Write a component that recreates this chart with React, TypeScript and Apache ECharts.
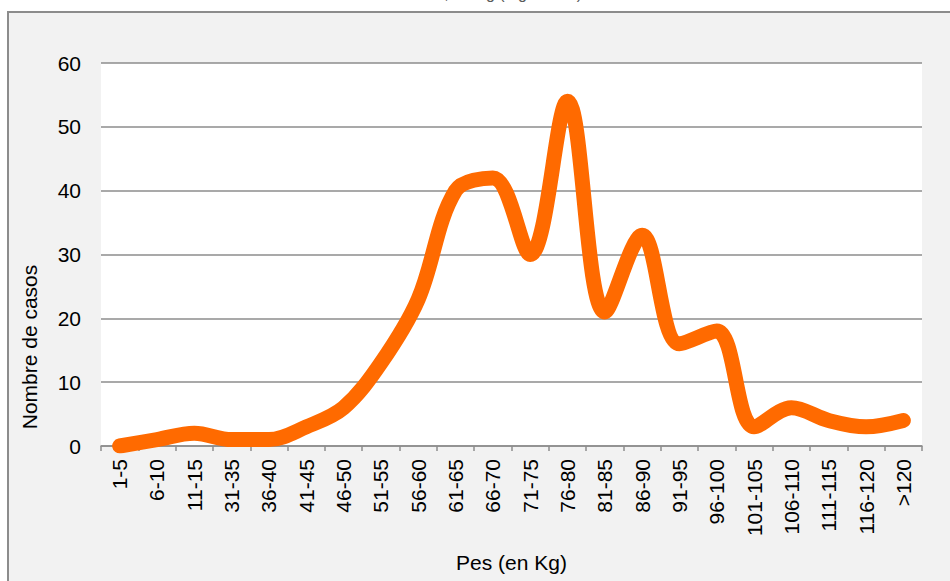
import React, { useEffect, useRef } from "react";
import * as echarts from "echarts";

const categories = [
  "1-5", "6-10", "11-15", "31-35", "36-40", "41-45", "46-50", "51-55", "56-60", "61-65", "66-70",
  "71-75", "76-80", "81-85", "86-90", "91-95", "96-100", "101-105", "106-110", "111-115", "116-120", ">120",
];
const casos = [0, 1, 2, 1, 1, 3, 6, 13, 23, 40, 42, 30, 54, 21, 33, 16, 18, 3, 6, 4, 3, 4];
const yTicks = { min: 0, max: 60, interval: 10 };
const titleText = "Distribució del Pes, en Kg (Figura 3.1)";
const xName = "Pes (en Kg)";
const yName = "Nombre de casos";

const FONT = "'Liberation Sans', Arial, sans-serif";
const FS = 21;

export default function App() {
  const ref = useRef<HTMLDivElement>(null);
  useEffect(() => {
    if (!ref.current) return;
    const chart = echarts.init(ref.current, undefined, { renderer: "svg" });
    chart.setOption({
      animation: false,
      backgroundColor: "#ffffff",
      textStyle: { fontFamily: FONT },
      graphic: [
        {
          type: "rect",
          z: -10,
          shape: { x: 8, y: 12, width: 1000, height: 640 },
          style: { fill: "#f2f2f2", stroke: "#8c8c8c", lineWidth: 2 },
        },
        {
          type: "text",
          z: 10,
          x: 582,
          y: -7,
          style: {
            text: titleText,
            fill: "#595959",
            font: `16px ${FONT}`,
            align: "right",
            verticalAlign: "middle",
          },
        },
        {
          type: "text",
          z: 10,
          x: 29,
          y: 347,
          rotation: Math.PI / 2,
          style: {
            text: yName,
            fill: "#000000",
            font: `${FS}px ${FONT}`,
            align: "center",
            verticalAlign: "middle",
          },
        },
      ],
      grid: {
        left: 101,
        right: 28,
        top: 63,
        bottom: 135,
        show: true,
        backgroundColor: "#ffffff",
        borderWidth: 0,
        containLabel: false,
        outerBoundsMode: "none",
      },
      xAxis: {
        type: "category",
        data: categories,
        boundaryGap: true,
        name: xName,
        nameLocation: "middle",
        nameGap: 106,
        nameTextStyle: { fontSize: FS, color: "#000", fontFamily: FONT },
        axisLine: { show: true, lineStyle: { color: "#8c8c8c", width: 1.5 } },
        axisTick: { show: true, length: 5, alignWithLabel: false, lineStyle: { color: "#8c8c8c", width: 1.5 } },
        axisLabel: {
          rotate: 90,
          interval: 0,
          margin: 13,
          fontSize: FS,
          color: "#000",
          fontFamily: FONT,
        },
        splitLine: { show: false },
      },
      yAxis: {
        type: "value",
        min: yTicks.min,
        max: yTicks.max,
        interval: yTicks.interval,
        axisLine: { show: false },
        axisTick: { show: false },
        axisLabel: { margin: 20, fontSize: FS, color: "#000", fontFamily: FONT },
        splitLine: { show: true, lineStyle: { color: "#8c8c8c", width: 1.5 } },
      },
      series: [
        {
          type: "line",
          data: casos,
          smooth: 0.35,
          clip: true,
          symbol: "none",
          lineStyle: { color: "#ff6a00", width: 15, cap: "round", join: "round" },
          z: 3,
        },
      ],
    });
    return () => chart.dispose();
  }, []);
  return <div ref={ref} style={{ position: "absolute", left: 0, top: 0, width: 950, height: 581 }} />;
}
